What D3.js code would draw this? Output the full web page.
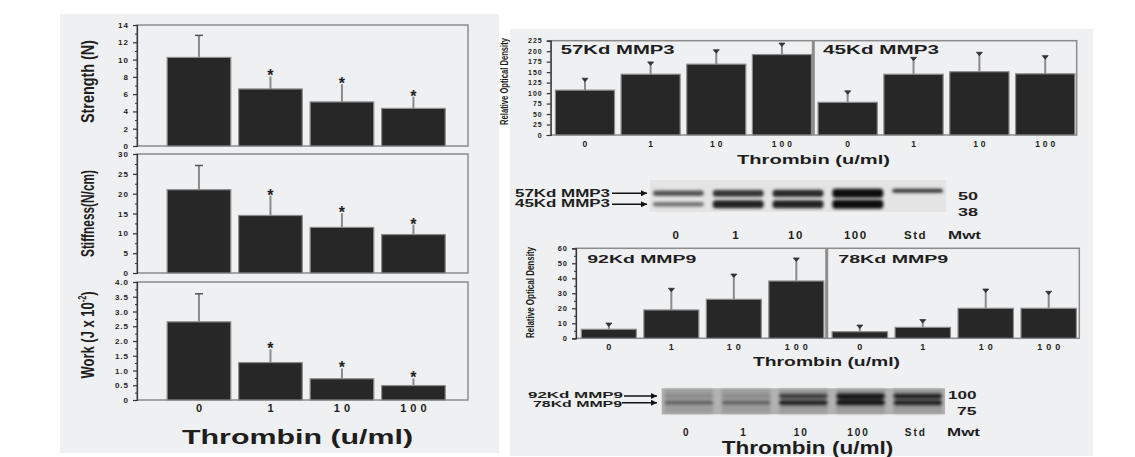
<!DOCTYPE html>
<html>
<head>
<meta charset="utf-8">
<script src="https://cdn.jsdelivr.net/npm/d3@7"></script>
<style>
  body { margin: 0; background: #fff; }
  svg { display: block; }
  text { font-family: "Liberation Sans", Arial, sans-serif; font-weight: bold; fill: #1e1e1e; }
</style>
</head>
<body>
<svg id="fig" width="1135" height="457"></svg>
<script>
// ---- data ----
const doses = ["0", "1", "10", "100"];

const strengthMean = [10.25, 6.6, 5.1, 4.35];
const strengthSD = [2.55, 1.45, 2.05, 1.35];
const stiffnessMean = [21.0, 14.5, 11.5, 9.7];
const stiffnessSD = [6.1, 5.0, 3.6, 2.5];
const workMean = [2.65, 1.27, 0.72, 0.49];
const workSD = [0.95, 0.45, 0.35, 0.24];
const significant = [false, true, true, true];

const mmp3_57Mean = [107, 145, 169, 192];
const mmp3_57SD = [26, 27, 32, 25];
const mmp3_45Mean = [78, 145, 151, 146];
const mmp3_45SD = [25, 38, 44, 41];
const mmp9_92Mean = [6, 18.9, 26, 38.2];
const mmp9_92SD = [3.5, 13.8, 16.2, 14.7];
const mmp9_78Mean = [4.4, 7.3, 20, 20];
const mmp9_78SD = [3.8, 4.5, 12.2, 10.7];

const gelLanes = ["0", "1", "10", "100", "Std"];
const gel3Upper = [0.65, 0.8, 0.85, 1.0, 0.8];    // band density, 57Kd
const gel3Lower = [0.5, 0.9, 0.9, 1.0, 0];        // 45Kd
const gel9Upper = [0.15, 0.15, 0.7, 0.95, 0.85];  // 92Kd
const gel9Lower = [0.45, 0.45, 0.85, 0.95, 0.85]; // 78Kd
const mwt3 = ["50", "38"];
const mwt9 = ["100", "75"];

const NARROW = '"Liberation Sans Narrow", "DejaVu Sans Condensed", "Arial Narrow", sans-serif';
const BAR = "#272727", EDGE = "#8c8c8c", ERR = "#8a8a8a";

const svg = d3.select("#fig");
const defs = svg.append("defs");
defs.append("filter").attr("id", "blur")
    .attr("x", "-20%").attr("y", "-50%").attr("width", "140%").attr("height", "200%")
    .append("feGaussianBlur").attr("stdDeviation", 1.8);
defs.append("marker").attr("id", "arrow")
    .attr("viewBox", "0 0 10 10").attr("refX", 10).attr("refY", 5)
    .attr("markerWidth", 11).attr("markerHeight", 6).attr("markerUnits", "userSpaceOnUse")
    .attr("orient", "auto")
    .append("path").attr("d", "M0,0L10,5L0,10z").attr("fill", "#111");

// panel backgrounds
svg.append("rect").attr("x", 60).attr("y", 14).attr("width", 439).attr("height", 439).attr("fill", "#eff0f2");
svg.append("rect").attr("x", 510).attr("y", 29).attr("width", 583).attr("height", 427).attr("fill", "#eff0f2");

// text helper
function label(x, y, s, size, opt = {}) {
    const t = svg.append("text")
        .attr("x", x).attr("y", y)
        .attr("font-size", size)
        .attr("text-anchor", opt.anchor || "start")
        .text(s);
    if (opt.len) t.attr("textLength", opt.len).attr("lengthAdjust", "spacingAndGlyphs");
    if (opt.spacing) t.attr("letter-spacing", opt.spacing);
    if (opt.narrow) t.attr("font-family", NARROW);
    if (opt.rotate) t.attr("transform", `rotate(-90 ${x} ${y})`);
    return t;
}

// y axis with major + minor ticks
function yAxis(x0, y, majors, minors, fmt, size) {
    const ax = svg.append("g")
        .attr("transform", `translate(${x0},0)`)
        .call(d3.axisLeft(y).tickValues(majors).tickSize(4).tickPadding(4).tickFormat(fmt));
    ax.select(".domain").attr("stroke", "#333").attr("stroke-width", 1.2);
    ax.selectAll(".tick line").attr("stroke", "#333").attr("stroke-width", 1.2);
    ax.selectAll(".tick text")
        .attr("font-size", size)
        .attr("font-family", '"Liberation Sans", Arial, sans-serif')
        .attr("font-weight", "bold")
        .attr("letter-spacing", 1)
        .attr("fill", "#222");
    if (minors.length) {
        const mn = svg.append("g")
            .attr("transform", `translate(${x0},0)`)
            .call(d3.axisLeft(y).tickValues(minors).tickSize(2).tickFormat(""));
        mn.select(".domain").remove();
        mn.selectAll(".tick line").attr("stroke", "#333");
    }
}

// bars + error bars for one group of 4 doses
function bars(x, y, mean, sd, capStyle) {
    const rows = doses.map((d, i) => ({ dose: d, m: mean[i], s: sd[i], sig: significant[i] }));
    const g = svg.append("g");
    g.selectAll("line.err").data(rows).enter().append("line")
        .attr("x1", d => x(d.dose) + x.bandwidth() / 2)
        .attr("x2", d => x(d.dose) + x.bandwidth() / 2)
        .attr("y1", d => y(d.m))
        .attr("y2", d => y(d.m + d.s))
        .attr("stroke", ERR).attr("stroke-width", 2);
    g.selectAll("rect").data(rows).enter().append("rect")
        .attr("x", d => x(d.dose))
        .attr("y", d => y(d.m))
        .attr("width", x.bandwidth())
        .attr("height", d => y(0) - y(d.m))
        .attr("fill", BAR)
        .attr("stroke", EDGE).attr("stroke-width", 1.2);
    if (capStyle === "star") {
        g.selectAll("line.cap").data(rows.filter(d => !d.sig)).enter().append("line")
            .attr("x1", d => x(d.dose) + x.bandwidth() / 2 - 4)
            .attr("x2", d => x(d.dose) + x.bandwidth() / 2 + 4)
            .attr("y1", d => y(d.m + d.s)).attr("y2", d => y(d.m + d.s))
            .attr("stroke", "#555").attr("stroke-width", 1.5);
        g.selectAll("text").data(rows.filter(d => d.sig)).enter().append("text")
            .attr("x", d => x(d.dose) + x.bandwidth() / 2)
            .attr("y", d => y(d.m + d.s) + 5)
            .attr("text-anchor", "middle")
            .attr("font-size", 16)
            .text("*");
    } else {
        g.selectAll("path.cap").data(rows).enter().append("path")
            .attr("d", d => {
                const cx = x(d.dose) + x.bandwidth() / 2, cy = y(d.m + d.s);
                return `M${cx - 3},${cy - 1}L${cx + 3},${cy - 1}L${cx},${cy + 2.5}Z`;
            })
            .attr("fill", "#333").attr("stroke", "#333").attr("stroke-width", 0.8);
    }
}

function frame(x0, x1, y0, y1) {
    svg.append("rect").attr("x", x0).attr("y", y0)
        .attr("width", x1 - x0).attr("height", y1 - y0)
        .attr("fill", "none").attr("stroke", "#8c8c8c").attr("stroke-width", 1.5);
}

// ---------------- left: biomechanics ----------------
const xLeft = d3.scaleBand().domain(doses).range([137, 468])
    .paddingInner(0.11).paddingOuter(0.37).align(0.57);

const leftPanels = [
    { mean: strengthMean, sd: strengthSD, max: 14, step: 2, minor: 1, top: 25, bottom: 146,
      fmt: d => d, title: "Strength (N)", ty: 81.5, tlen: 83 },
    { mean: stiffnessMean, sd: stiffnessSD, max: 30, step: 5, minor: 2.5, top: 154, bottom: 273,
      fmt: d => d, title: "Stiffness(N/cm)", ty: 213.5, tlen: 87 },
    { mean: workMean, sd: workSD, max: 4, step: 0.5, minor: 0.25, top: 282, bottom: 400,
      fmt: d => d === 0 ? "0" : d.toFixed(1), title: null, ty: 335, tlen: 87 }
];

leftPanels.forEach(p => {
    const y = d3.scaleLinear().domain([0, p.max]).range([p.bottom, p.top]);
    const majors = d3.range(0, p.max + p.step / 2, p.step);
    const minors = d3.range(p.minor, p.max, p.step);
    frame(137, 468, p.top, p.bottom);
    bars(xLeft, y, p.mean, p.sd, "star");
    yAxis(137, y, majors, minors, p.fmt, 8);
    if (p.title) {
        label(94, p.ty, p.title, 18, { anchor: "middle", rotate: true, narrow: true, len: p.tlen });
    } else {
        const t = label(94, p.ty, "Work (J x 10", 18, { anchor: "middle", rotate: true, narrow: true, len: p.tlen });
        t.append("tspan").attr("font-size", 10).attr("dy", -8).text("-2");
        t.append("tspan").attr("dy", 8).text(")");
    }
});

doses.forEach(d => label(xLeft(d) + xLeft.bandwidth() / 2 + 2, 412, d, 11, { anchor: "middle", spacing: 4 }));
label(182, 443.5, "Thrombin (u/ml)", 20, { len: 231 });

// ---------------- right top: MMP3 densitometry ----------------
const y3 = d3.scaleLinear().domain([0, 225]).range([135, 40.7]);
const top3 = [
    { mean: mmp3_57Mean, sd: mmp3_57SD, range: [550.7, 813.3], name: "57Kd MMP3", lx: 560.7, llen: 114 },
    { mean: mmp3_45Mean, sd: mmp3_45SD, range: [813.3, 1076.7], name: "45Kd MMP3", lx: 823, llen: 116 }
];
frame(550.7, 1076.7, 40.7, 135);
top3.forEach(gr => {
    const x = d3.scaleBand().domain(doses).range(gr.range)
        .paddingInner(0.1).paddingOuter(0.05).align(0.72);
    bars(x, y3, gr.mean, gr.sd, "tri");
    doses.forEach(d => label(x(d) + x.bandwidth() / 2 + 1.5, 147, d, 8.5, { anchor: "middle", spacing: 3 }));
    label(gr.lx, 54.3, gr.name, 12, { len: gr.llen });
});
svg.append("line").attr("x1", 813.3).attr("x2", 813.3).attr("y1", 40.7).attr("y2", 135)
    .attr("stroke", "#8c8c8c").attr("stroke-width", 3);
yAxis(550.7, y3, d3.range(0, 226, 25), [], d => d, 7);
label(508, 81.5, "Relative Optical Density", 10, { anchor: "middle", rotate: true, narrow: true, len: 87 });
label(737, 164, "Thrombin (u/ml)", 13, { len: 153 });

// ---------------- gels ----------------
function gel(x0, x1, y0, y1, bg, upper, lower, yu, yl, spec) {
    const x = d3.scaleBand().domain(gelLanes).range([x0, x1]).paddingInner(0.15).paddingOuter(0.05);
    svg.append("rect").attr("x", x0).attr("y", y0).attr("width", x1 - x0).attr("height", y1 - y0)
        .attr("fill", bg);
    const shade = d3.interpolateRgb(spec.light, "#0c0c0c");
    const g = svg.append("g").attr("filter", "url(#blur)");
    if (spec.laneFill) {
        g.selectAll("rect.lane").data(gelLanes).enter().append("rect")
            .attr("x", d => x(d)).attr("y", y0 + 1).attr("width", x.bandwidth()).attr("height", y1 - y0 - 2)
            .attr("fill", spec.laneFill);
    }
    const bandRows = [];
    gelLanes.forEach((l, i) => {
        const std = l === "Std";
        if (upper[i] > 0) bandRows.push({ lane: l, v: upper[i], cy: yu - (std ? spec.stdLift : 0), thin: std && spec.stdThin });
        if (lower[i] > 0) bandRows.push({ lane: l, v: lower[i], cy: yl });
    });
    const hgt = d => d.thin ? spec.h0 + 1 : spec.h0 + spec.h1 * d.v * d.v;
    g.selectAll("rect.band").data(bandRows).enter().append("rect")
        .attr("x", d => x(d.lane))
        .attr("width", x.bandwidth())
        .attr("y", d => d.cy - hgt(d) / 2)
        .attr("height", hgt)
        .attr("rx", 3)
        .attr("fill", d => shade(d.v));
    return x;
}

// MMP3 zymogram
const xg3 = gel(650, 946, 180, 212, "#e4e4e4", gel3Upper, gel3Lower, 193.3, 204.3,
    { light: "#d6d6d6", h0: 3, h1: 6, stdLift: 2.5, stdThin: true });
gelLanes.forEach(l => label(xg3(l) + xg3.bandwidth() / 2 - 2, 239, l, 11.5, { anchor: "middle", spacing: 1.5 }));
label(515, 196.5, "57Kd MMP3", 10.5, { len: 95 });
label(515, 207, "45Kd MMP3", 10.5, { len: 95 });
[193.3, 204.3].forEach(yy => svg.append("line")
    .attr("x1", 612).attr("x2", 647).attr("y1", yy).attr("y2", yy)
    .attr("stroke", "#111").attr("stroke-width", 1.5).attr("marker-end", "url(#arrow)"));
label(958, 200, mwt3[0], 11, { len: 20 });
label(958, 216, mwt3[1], 11, { len: 20 });
label(948, 239, "Mwt", 11, { len: 33 });

// ---------------- right bottom: MMP9 densitometry ----------------
const y9 = d3.scaleLinear().domain([0, 60]).range([338.3, 248.3]);
const bottom9 = [
    { mean: mmp9_92Mean, sd: mmp9_92SD, range: [576, 826.7], name: "92Kd MMP9", lx: 587.3, llen: 109 },
    { mean: mmp9_78Mean, sd: mmp9_78SD, range: [826.7, 1079.3], name: "78Kd MMP9", lx: 838.3, llen: 110 }
];
frame(576, 1079.3, 248.3, 338.3);
bottom9.forEach(gr => {
    const x = d3.scaleBand().domain(doses).range(gr.range)
        .paddingInner(0.12).paddingOuter(0.066).align(0.65);
    bars(x, y9, gr.mean, gr.sd, "tri");
    doses.forEach(d => label(x(d) + x.bandwidth() / 2 + 2, 350, d, 9, { anchor: "middle", spacing: 4 }));
    label(gr.lx, 262.5, gr.name, 11, { len: gr.llen });
});
svg.append("line").attr("x1", 826.7).attr("x2", 826.7).attr("y1", 248.3).attr("y2", 338.3)
    .attr("stroke", "#8c8c8c").attr("stroke-width", 3);
yAxis(576, y9, d3.range(0, 61, 10), d3.range(5, 60, 10), d => d, 7.5);
label(534, 292.5, "Relative Optical Density", 10, { anchor: "middle", rotate: true, narrow: true, len: 91 });
label(753, 365.7, "Thrombin (u/ml)", 13, { len: 147 });

// MMP9 zymogram
const xg9 = gel(661.7, 945, 388.3, 414.3, "#b2b2b2", gel9Upper, gel9Lower, 396, 402.7,
    { light: "#9a9a9a", h0: 3, h1: 4, stdLift: 0, stdThin: false, laneFill: "#9c9c9c" });
gelLanes.forEach(l => label(xg9(l) + xg9.bandwidth() / 2 - 2, 436, l, 10, { anchor: "middle", spacing: 2 }));
label(528, 397.5, "92Kd MMP9", 9.5, { len: 95 });
label(533, 406.5, "78Kd MMP9", 9.5, { len: 89 });
[[396, 624], [402.7, 622]].forEach(([yy, xs]) => svg.append("line")
    .attr("x1", xs).attr("x2", 657).attr("y1", yy).attr("y2", yy)
    .attr("stroke", "#111").attr("stroke-width", 1.5).attr("marker-end", "url(#arrow)"));
label(948, 399.3, mwt9[0], 10.5, { len: 28.5 });
label(957, 415, mwt9[1], 10.5, { len: 19.5 });
label(947, 436, "Mwt", 10.5, { len: 33 });
label(721.7, 454, "Thrombin (u/ml)", 18, { len: 171.6 });
</script>
</body>
</html>
